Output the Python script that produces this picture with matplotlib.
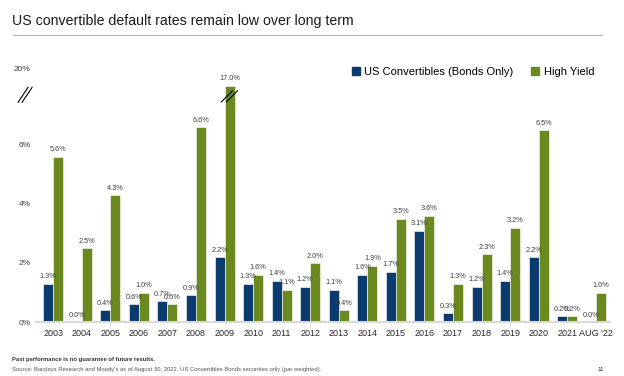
import numpy as np
import matplotlib.pyplot as plt
import matplotlib.transforms as mtransforms
from matplotlib.lines import Line2D
from matplotlib.patches import Patch

# data
years = ['2003', '2004', '2005', '2006', '2007', '2008', '2009', '2010', '2011', '2012',
         '2013', '2014', '2015', '2016', '2017', '2018', '2019', '2020', '2021', "AUG '22"]
conv = [1.3, 0.0, 0.4, 0.6, 0.7, 0.9, 2.2, 1.3, 1.4, 1.2,
        1.1, 1.6, 1.7, 3.1, 0.3, 1.2, 1.4, 2.2, 0.2, 0.0]
hy = [5.6, 2.5, 4.3, 1.0, 0.6, 6.6, 17.0, 1.6, 1.1, 2.0,
      0.4, 1.9, 3.5, 3.6, 1.3, 2.3, 3.2, 6.5, 0.2, 1.0]
yticks = [0, 2, 4, 6, 20]

blue = '#0B3A6E'
green = '#6A8A1F'

# broken axis: compress everything above 7%
def fwd(y):
    y = np.asarray(y, dtype=float)
    return np.where(y <= 7, y, np.where(y <= 17, 7 + (y - 7) * 0.1, 8 + (y - 17) * 0.193))

def inv(v):
    v = np.asarray(v, dtype=float)
    return np.where(v <= 7, v, np.where(v <= 8, 7 + (v - 7) / 0.1, 17 + (v - 8) / 0.193))

plt.rcParams['font.family'] = ['Liberation Sans', 'DejaVu Sans']

fig = plt.figure(figsize=(6.24, 3.76), dpi=100)
ax = fig.add_axes([0.0577, 0.1436, 0.92, 0.6835])
ax.set_yscale('function', functions=(fwd, inv))

x = np.arange(len(years))
w = 0.35
ax.bar(x - w / 2, conv, w, color=blue, edgecolor='white', linewidth=0.4)
ax.bar(x + w / 2, hy, w, color=green, edgecolor='white', linewidth=0.4)

for xi, v in zip(x, conv):
    ax.annotate(f'{v:.1f}%', (xi - w / 2, v), xytext=(0, 2.5), textcoords='offset points',
                ha='center', va='bottom', fontsize=5.3, color='#404040')
for xi, v in zip(x, hy):
    ax.annotate(f'{v:.1f}%', (xi + w / 2, v), xytext=(0, 2.5), textcoords='offset points',
                ha='center', va='bottom', fontsize=5.3, color='#404040')

ax.set_xlim(-0.6, len(years) - 0.5)
ax.set_ylim(0, inv(8.71))
ax.set_yticks(yticks)
ax.set_yticklabels([f'{t}%' for t in yticks])
ax.set_xticks(x)
ax.set_xticklabels(years)
ax.tick_params(axis='y', length=0, labelsize=6, labelcolor='#404040', pad=4)
ax.tick_params(axis='x', length=0, labelsize=6.5, labelcolor='#262626', pad=5)
for s in ['top', 'right', 'left']:
    ax.spines[s].set_visible(False)
ax.spines['bottom'].set_color('#D9D9D9')
ax.spines['bottom'].set_linewidth(1.5)

# break marks (// drawn in pixels around an anchor point)
def slash(xa, ya, base, hx, hy_, sep):
    off = mtransforms.ScaledTranslation(xa, ya, base)
    for s in (-sep / 2, sep / 2):
        fig.add_artist(Line2D([s - hx, s + hx], [-hy_, hy_], color='black', lw=0.8,
                              transform=mtransforms.Affine2D() + off))

i09 = years.index('2009')
slash(i09 + w / 2, 13.5, ax.transData, 5.5, 5.5, 5)
slash(-0.019, 14.0, ax.get_yaxis_transform(), 5, 7.5, 4)

handles = [Patch(color=blue), Patch(color=green)]
fig.legend(handles, ['US Convertibles (Bonds Only)', 'High Yield'], loc='center right',
           bbox_to_anchor=(0.968, 0.808), ncol=2, frameon=False, fontsize=8,
           handlelength=0.7, handleheight=0.7, handletextpad=0.4, columnspacing=1.6)

fig.text(0.019, 0.943, 'US convertible default rates remain low over long term',
         fontsize=10.2, color='#1a1a1a', va='center')
fig.add_artist(Line2D([0.021, 0.965], [0.907, 0.907], color='#A9B2C3', lw=0.8))

fig.text(0.019, 0.045, 'Past performance is no guarantee of future results.',
         fontsize=4.2, fontweight='bold', color='#333333', va='center')
fig.text(0.019, 0.018, "Source: Barclays Research and Moody's as of August 30, 2022. US Convertibles Bonds securities only (par weighted).",
         fontsize=4.2, color='#555555', va='center')
fig.text(0.958, 0.018, '11', fontsize=4.5, color='#333333', va='center')

fig.savefig('out.png', dpi=100)
